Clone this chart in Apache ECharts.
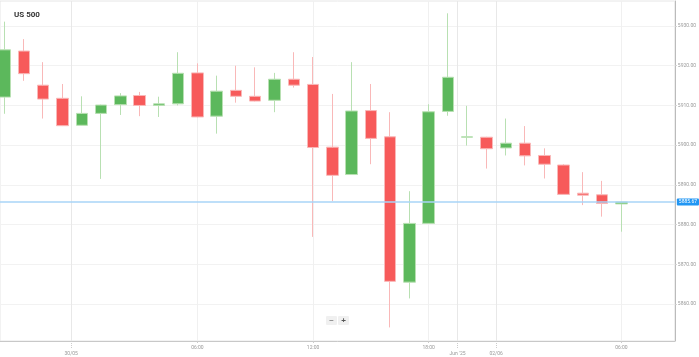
<!DOCTYPE html>
<html>
<head>
<meta charset="utf-8">
<script src="https://cdn.jsdelivr.net/npm/echarts@6/dist/echarts.min.js"></script>
<style>
  html, body { margin: 0; padding: 0; background: #fff; }
  #chart { width: 699px; height: 357px; }
</style>
</head>
<body>
<div id="chart"></div>
<script>
// hourly candles, left to right
var opens  = [5912.1, 5923.7, 5915.1, 5911.8, 5905.0, 5908.0, 5910.2, 5912.5, 5910.0, 5910.4, 5918.2, 5907.3, 5913.8, 5912.3, 5911.3, 5916.6, 5915.3, 5899.5, 5892.6, 5908.7, 5902.1, 5865.5, 5880.3, 5908.5, 5902.0, 5902.0, 5899.3, 5900.5, 5897.4, 5895.0, 5887.9, 5887.5, 5885.2];
var closes = [5924.0, 5918.0, 5911.6, 5904.9, 5908.0, 5910.1, 5912.4, 5910.0, 5910.4, 5918.1, 5907.1, 5913.6, 5912.3, 5911.1, 5916.6, 5915.1, 5899.4, 5892.4, 5908.6, 5901.7, 5865.7, 5880.3, 5908.4, 5917.1, 5902.1, 5899.1, 5900.5, 5897.3, 5895.2, 5887.6, 5887.4, 5885.3, 5885.67];
var lows   = [5907.9, 5916.2, 5906.7, 5904.8, 5904.9, 5891.5, 5907.6, 5907.3, 5907.1, 5910.0, 5907.0, 5902.9, 5910.7, 5911.0, 5908.3, 5914.5, 5876.9, 5885.9, 5892.5, 5895.2, 5854.1, 5861.4, 5880.2, 5907.4, 5899.9, 5894.1, 5897.4, 5894.9, 5891.6, 5887.5, 5884.9, 5882.0, 5878.2];
var highs  = [5931.1, 5926.7, 5920.9, 5915.4, 5912.3, 5910.2, 5913.1, 5913.4, 5912.2, 5923.4, 5920.6, 5917.5, 5920.0, 5919.6, 5918.2, 5923.4, 5922.2, 5912.9, 5920.9, 5915.4, 5908.3, 5888.4, 5910.3, 5933.2, 5909.9, 5902.1, 5906.7, 5904.8, 5899.2, 5895.2, 5893.2, 5891.0, 5885.8];

var lastPrice = 5885.67;

// time labels, placed at candle index positions
var hourTicks  = [10, 16, 22, 32];
var hourLabels = ['06:00', '12:00', '18:00', '06:00'];
var dayTicks   = [3.45, 23.5, 25.5];
var dayLabels  = ['30/05', "Jun '25", '02/06'];

var priceTicks = [5860, 5870, 5880, 5890, 5900, 5910, 5920, 5930];

var candles = opens.map(function(o, i) {
  return [i, o, closes[i], lows[i], highs[i]];
});

function labelFor(ticks, labels) {
  return function(v) {
    for (var k = 0; k < ticks.length; k++) {
      if (Math.abs(ticks[k] - v) < 0.01) return labels[k];
    }
    return '';
  };
}

var chart = echarts.init(document.getElementById('chart'));
chart.setOption({
  animation: false,
  textStyle: { fontFamily: 'Roboto' },
  title: {
    text: 'US 500',
    left: 9,
    top: 6,
    textStyle: { fontSize: 8, fontWeight: 'bold', color: '#333', fontFamily: 'Roboto' }
  },
  grid: {
    left: 0, right: 23, top: 1, bottom: 16,
    show: true, borderColor: '#e6e6e6', borderWidth: 1
  },
  xAxis: [{
    type: 'value',
    min: -0.243, max: 34.77,
    position: 'bottom',
    axisLine: { show: true, onZero: false, lineStyle: { color: '#c8c8c8' } },
    axisTick: { show: true, length: 2, customValues: hourTicks, lineStyle: { color: '#ccc' } },
    axisLabel: {
      customValues: hourTicks, formatter: labelFor(hourTicks, hourLabels),
      fontSize: 5, color: '#999', margin: 4
    },
    splitLine: { show: true, lineStyle: { color: '#f0f0f0' } }
  }, {
    type: 'value',
    min: -0.243, max: 34.77,
    position: 'bottom',
    offset: 0,
    axisLine: { show: false, onZero: false },
    axisTick: { show: true, length: 8, customValues: dayTicks, lineStyle: { color: '#ccc', type: [1, 1] } },
    axisLabel: {
      customValues: dayTicks, formatter: labelFor(dayTicks, dayLabels),
      fontSize: 5, color: '#999', margin: 10
    },
    splitLine: { show: true, lineStyle: { color: '#e8e8e8' } }
  }],
  yAxis: {
    type: 'value',
    position: 'right',
    min: 5850.68, max: 5936.3,
    scale: true,
    axisLine: { show: true, onZero: false, lineStyle: { color: '#bbb' } },
    axisTick: { show: true, length: 2, customValues: priceTicks, lineStyle: { color: '#ccc' } },
    axisLabel: {
      customValues: priceTicks,
      formatter: function(v) { return v.toFixed(2); },
      fontSize: 5, color: '#999', margin: 3
    },
    splitLine: { show: true, lineStyle: { color: '#f2f2f2' } }
  },
  series: [{
    type: 'candlestick',
    xAxisIndex: 0,
    data: candles,
    encode: { x: 0, y: [1, 2, 3, 4] },
    barWidth: 12,
    itemStyle: {
      color: '#5cb85c',
      color0: '#f75a5a',
      borderColor: '#b8e0b2',
      borderColor0: '#f9b8b8',
      borderWidth: 1
    },
    markLine: {
      silent: true,
      symbol: ['none', 'none'],
      data: [{ yAxis: lastPrice }],
      lineStyle: { color: '#a9d5f7', width: 1.5, type: 'solid' },
      label: {
        position: 'end',
        formatter: lastPrice.toFixed(2),
        fontSize: 5,
        color: '#fff',
        backgroundColor: '#2196f3',
        padding: [1, 2],
        borderRadius: 1,
        distance: 2
      }
    }
  }],
  graphic: [{
    type: 'group',
    left: 326,
    top: 316,
    children: [
      { type: 'rect', shape: { x: 0, y: 0, width: 11, height: 9, r: 1 }, style: { fill: '#f0f0f0' } },
      { type: 'rect', shape: { x: 12, y: 0, width: 11, height: 9, r: 1 }, style: { fill: '#f0f0f0' } },
      { type: 'text', x: 5.5, y: 4.5, style: { text: '−', fontSize: 8, fill: '#555', align: 'center', verticalAlign: 'middle' } },
      { type: 'text', x: 17.5, y: 4.5, style: { text: '+', fontSize: 8, fill: '#555', align: 'center', verticalAlign: 'middle', fontWeight: 'bold' } }
    ]
  }]
});
</script>
</body>
</html>
